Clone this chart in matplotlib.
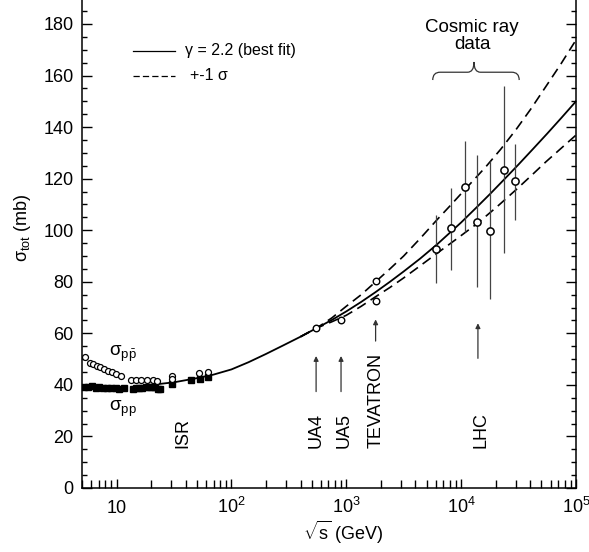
import numpy as np
import matplotlib
matplotlib.use('Agg')
import matplotlib.pyplot as plt
from matplotlib.path import Path
from matplotlib.patches import PathPatch
from matplotlib.ticker import MultipleLocator, LogLocator, NullFormatter

# fonts, helvetica-like
plt.rcParams['font.family'] = 'Liberation Sans'
plt.rcParams['mathtext.fontset'] = 'custom'
plt.rcParams['mathtext.rm'] = 'Liberation Sans'
plt.rcParams['mathtext.it'] = 'Liberation Sans:italic'
plt.rcParams['mathtext.bf'] = 'Liberation Sans:bold'

# --- data ---
# p-pbar total cross section (open circles)
pbar_x = [5.27, 5.82, 6.22, 6.75, 7.22, 7.76, 8.4, 9.1, 9.94, 11.0, 13.4, 14.8, 16.4, 18.3, 20.7, 22.4, 30.4, 30.4, 52.6, 62.7]
pbar_y = [50.9, 48.4, 48.0, 47.3, 46.8, 46.2, 45.5, 44.9, 44.1, 43.4, 41.9, 41.8, 41.8, 41.8, 41.9, 41.7, 43.3, 42.3, 44.7, 45.1]
# p-p total cross section (filled squares)
pp_x = [5.2, 5.6, 6.1, 6.6, 7.0, 7.6, 8.2, 9.0, 9.8, 10.6, 11.5, 13.8, 14.7, 15.8, 16.8, 18.0, 19.4, 20.5, 21.7, 23.0, 24.0, 30.6, 44.7, 52.8, 62.5]
pp_y = [39.3, 39.2, 39.4, 38.9, 39.0, 38.8, 38.7, 38.6, 38.7, 38.5, 38.6, 38.5, 38.7, 38.9, 38.8, 39.0, 39.1, 39.2, 39.1, 38.3, 38.5, 40.2, 41.8, 42.4, 43.1]
# collider points UA4, UA5, CDF, E710
coll_x = [546, 900, 1800, 1800]
coll_y = [62.0, 65.2, 80.3, 72.5]
# cosmic ray points with error bars
cr_x = [6100, 8130, 10770, 13870, 17870, 23800, 29650]
cr_y = [92.6, 100.7, 116.9, 103.3, 99.8, 123.3, 119.1]
cr_lo = [79.5, 84.6, 99.4, 78.1, 73.4, 91.0, 104.0]
cr_hi = [105.9, 116.4, 134.5, 129.2, 126.9, 156.0, 133.5]
# fit (gamma=2.2) and +-1 sigma band
fit_x = [20, 31.6, 50, 70, 100, 141, 200, 282, 400, 550, 750, 1000, 1350, 1800, 2400, 3160, 4400, 6170, 10000, 13300, 17800, 23700, 31600, 42200, 56200, 75000, 100000]
fit_y = [40.0, 41.0, 42.6, 44.0, 46.0, 48.8, 52.0, 55.3, 58.7, 62.0, 65.2, 68.5, 72.2, 76.0, 80.0, 84.0, 89.0, 94.5, 103.0, 108.4, 114.0, 119.7, 125.5, 131.5, 137.5, 143.7, 150.0]
up_x = [400, 550, 750, 1000, 1350, 1800, 2400, 3160, 4400, 6150, 8100, 10700, 16400, 22100, 29900, 40400, 54600, 73900, 100000]
up_y = [58.7, 62.0, 66.0, 70.5, 75.0, 80.0, 85.0, 90.0, 96.8, 104.0, 109.7, 115.6, 124.6, 131.4, 138.9, 147.0, 155.7, 164.5, 173.8]
lo_x = [400, 550, 750, 1000, 1350, 1800, 2400, 3160, 4400, 6150, 9250, 13900, 20400, 29900, 40400, 54600, 73900, 100000]
lo_y = [58.7, 62.0, 64.5, 67.0, 70.5, 74.2, 77.8, 81.5, 86.2, 91.0, 96.8, 102.7, 109.0, 115.6, 121.0, 126.5, 131.7, 136.9]
# accelerators
exp_names = ['ISR', 'UA4', 'UA5', 'TEVATRON', 'LHC']
exp_x = [37.5, 551, 960, 1830, 14800]
arr_x = [546, 900, 1800, 14000]
arr_y0 = [37.4, 37.4, 57.0, 50.3]
arr_y1 = [51.2, 51.2, 65.4, 63.9]
xtick_vals = [10, 100, 1000, 10000, 100000]
xtick_labels = ['10', '$10^2$', '$10^3$', '$10^4$', '$10^5$']

fig = plt.figure(figsize=(5.89, 5.52), dpi=100)
ax = fig.add_axes([82/589., 64/552., 494/589., 488/552.])

# curves
ax.plot(fit_x, fit_y, 'k-', lw=1.3)
ax.plot(up_x, up_y, 'k--', lw=1.2, dashes=(6, 3.5))
ax.plot(lo_x, lo_y, 'k--', lw=1.2, dashes=(6, 3.5))

# low energy data
ax.plot(pp_x, pp_y, 's', color='k', ms=4.3, zorder=3)
ax.plot(pbar_x, pbar_y, 'o', mfc='white', mec='k', ms=4.3, mew=0.9, zorder=4)
ax.plot(coll_x, coll_y, 'o', mfc='white', mec='k', ms=4.7, mew=1.0, zorder=4)

# cosmic rays
cr_y_a = np.array(cr_y)
yerr = [cr_y_a - np.array(cr_lo), np.array(cr_hi) - cr_y_a]
ax.errorbar(cr_x, cr_y, yerr=yerr, fmt='o', mfc='white', mec='k', ms=5.2, mew=1.1,
            ecolor='#444444', elinewidth=0.9, capsize=0, zorder=4)

# arrows + labels for accelerators
for i in range(len(arr_x)):
    ax.annotate('', xy=(arr_x[i], arr_y1[i]), xytext=(arr_x[i], arr_y0[i]),
                arrowprops=dict(arrowstyle='-|>', color='#333333', lw=0.9,
                                mutation_scale=7, shrinkA=0, shrinkB=0))
for i in range(len(exp_names)):
    ax.text(exp_x[i], 15.5, exp_names[i], rotation=90, ha='center', va='bottom', fontsize=13)

ax.text(11.4, 52, u'\u03c3$_{\\mathrm{p\\bar{p}}}$', ha='center', va='center', fontsize=13.5)
ax.text(11.4, 30.6, u'\u03c3$_{\\mathrm{pp}}$', ha='center', va='center', fontsize=13.5)

# legend drawn by hand
ax.plot([0.103, 0.188], [0.8955, 0.8955], 'k-', lw=0.9, transform=ax.transAxes)
ax.plot([0.103, 0.188], [0.8443, 0.8443], 'k--', lw=0.9, dashes=(5, 2.5), transform=ax.transAxes)
ax.text(0.208, 0.8955, u'\u03b3 = 2.2 (best fit)', transform=ax.transAxes, va='center', fontsize=11.5)
ax.text(0.218, 0.8443, u'+-1 \u03c3', transform=ax.transAxes, va='center', fontsize=11.5)

# cosmic ray brace
ax.text(0.7895, 0.926, 'Cosmic ray\ndata', transform=ax.transAxes, ha='center', va='center',
        fontsize=13.5, linespacing=1.0)
bx0, bx1, bxm = 0.710, 0.885, 0.7935
by0, by1, bym = 0.836, 0.852, 0.873
verts = [(bx0, by0), (bx0, by1), (bx0 + 0.015, by1),
         (bxm - 0.013, by1),
         (bxm, by1), (bxm, bym),
         (bxm, by1), (bxm + 0.013, by1),
         (bx1 - 0.015, by1),
         (bx1, by1), (bx1, by0)]
codes = [Path.MOVETO, Path.CURVE3, Path.CURVE3, Path.LINETO, Path.CURVE3, Path.CURVE3,
         Path.CURVE3, Path.CURVE3, Path.LINETO, Path.CURVE3, Path.CURVE3]
ax.add_patch(PathPatch(Path(verts, codes), transform=ax.transAxes, fc='none', ec='#333333', lw=0.9))

# axes
ax.set_xscale('log')
ax.set_xlim(5, 1e5)
ax.set_ylim(0, 189.3)
ax.set_xticks(xtick_vals)
labs = ax.set_xticklabels(xtick_labels, fontsize=13)
for l in labs:
    l.set_verticalalignment('baseline')
ax.xaxis.set_minor_locator(LogLocator(base=10, subs=np.arange(2, 10)))
ax.xaxis.set_minor_formatter(NullFormatter())
ax.yaxis.set_major_locator(MultipleLocator(20))
ax.yaxis.set_minor_locator(MultipleLocator(5))
ax.tick_params(axis='both', which='both', direction='in', right=True, top=False)
ax.tick_params(axis='y', which='major', length=7, width=1, labelsize=13, pad=6)
ax.tick_params(axis='y', which='minor', length=3.8, width=1)
ax.tick_params(axis='x', which='major', length=6.5, width=1, pad=18)
ax.tick_params(axis='x', which='minor', length=5.5, width=1)
ax.spines['top'].set_visible(False)
for s in ['left', 'right', 'bottom']:
    ax.spines[s].set_linewidth(1.1)

ax.set_ylabel(u'\u03c3$_{\\mathrm{tot}}$ (mb)', fontsize=13)
ax.yaxis.set_label_coords(-0.10, 0.533)
ax.set_xlabel(r'$\sqrt{\mathrm{s}}$ (GeV)', fontsize=13)
ax.xaxis.set_label_coords(0.53, -0.063)

plt.savefig('out.png', dpi=100)
